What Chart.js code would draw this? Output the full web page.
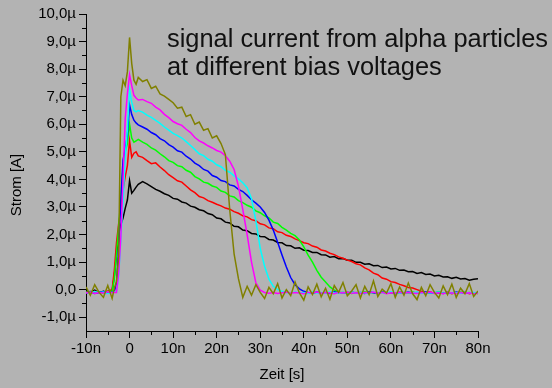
<!DOCTYPE html>
<html>
<head>
<meta charset="utf-8">
<script src="https://cdn.jsdelivr.net/npm/chart.js@4/dist/chart.umd.min.js"></script>
<style>
  html, body { margin: 0; padding: 0; background: #b3b3b3; }
</style>
</head>
<body>
<canvas id="c" width="552" height="388"></canvas>
<script>
// time axis in ns, currents in µA
const timeNs = [
  -10, -9, -8, -7, -6, -5, -4,
  -3.5, -3, -2.5, -2, -1.5, -1, -0.5, 0, 0.5, 1, 1.5, 2,
  3, 4, 5, 6, 7, 8, 9, 10, 11, 12,
  13, 14, 15, 16, 17, 18, 19, 20, 21, 22,
  23, 24, 25, 26, 27, 28, 29, 30, 31, 32,
  33, 34, 35, 36, 37, 38, 39, 40, 41, 42,
  43, 44, 45, 46, 47, 48, 49, 50, 51, 52,
  53, 54, 55, 56, 57, 58, 59, 60, 61, 62,
  63, 64, 65, 66, 67, 68, 69, 70, 71, 72,
  73, 74, 75, 76, 77, 78, 79, 80
]

const black = [
  -0.05, -0.1, -0.02, -0.12, -0.06, -0.1, -0.04,
  0.5, 1.3, 2.0, 2.35, 2.6, 2.95, 3.25, 3.95, 3.5, 3.6, 3.72, 3.82,
  3.92, 3.84, 3.74, 3.64, 3.57, 3.48, 3.42, 3.31, 3.28, 3.18,
  3.14, 3.03, 2.99, 2.9, 2.86, 2.76, 2.72, 2.6, 2.57, 2.45,
  2.42, 2.3, 2.28, 2.16, 2.14, 2.04, 2.02, 1.93, 1.92, 1.82,
  1.8, 1.71, 1.7, 1.6, 1.59, 1.5, 1.52, 1.43, 1.42, 1.35,
  1.35, 1.27, 1.26, 1.18, 1.2, 1.12, 1.13, 1.07, 1.07, 0.99,
  0.99, 0.92, 0.94, 0.87, 0.88, 0.8, 0.82, 0.75, 0.77, 0.7,
  0.71, 0.65, 0.66, 0.59, 0.62, 0.55, 0.57, 0.5, 0.52, 0.46,
  0.47, 0.41, 0.45, 0.39, 0.4, 0.34, 0.38, 0.4
]

const red = [
  -0.08, -0.14, -0.06, -0.12, -0.1, -0.05, 0.0,
  0.7, 1.7, 2.4, 2.9, 3.6, 4.1, 4.5, 5.4, 4.8, 4.95, 5.0, 4.85,
  4.8, 4.68, 4.57, 4.6, 4.45, 4.32, 4.17, 4.06, 3.95, 3.9,
  3.76, 3.62, 3.52, 3.38, 3.33, 3.23, 3.17, 3.1, 3.04, 2.96,
  2.92, 2.83, 2.77, 2.68, 2.64, 2.54, 2.5, 2.39, 2.35, 2.24,
  2.21, 2.1, 2.07, 1.97, 1.93, 1.84, 1.78, 1.7, 1.67, 1.58,
  1.54, 1.44, 1.4, 1.32, 1.27, 1.19, 1.14, 1.07, 1.02, 0.94,
  0.9, 0.79, 0.72, 0.6, 0.54, 0.42, 0.38, 0.29, 0.26, 0.19,
  0.14, 0.08, 0.06, 0.0, -0.06, -0.1, -0.08, -0.14, -0.1, -0.13,
  -0.09, -0.15, -0.1, -0.12, -0.08, -0.15, -0.11, -0.14
]

const green = [
  -0.1, -0.06, -0.13, -0.08, -0.12, -0.07, -0.05,
  0.4, 1.3, 2.3, 3.3, 4.4, 5.0, 5.3, 6.0, 5.5, 5.35, 5.4, 5.45,
  5.35, 5.27, 5.14, 5.06, 4.93, 4.82, 4.68, 4.62, 4.5, 4.46,
  4.33, 4.26, 4.1, 4.02, 3.9, 3.86, 3.76, 3.71, 3.58, 3.53,
  3.4, 3.36, 3.23, 3.16, 3.06, 2.99, 2.86, 2.79, 2.68, 2.6,
  2.45, 2.4, 2.26, 2.16, 2.04, 1.96, 1.8, 1.55, 1.25, 1.0,
  0.7, 0.45, 0.28, 0.1, -0.02, -0.08, -0.12, -0.09, -0.14, -0.1,
  -0.12, -0.08, -0.13, -0.1, -0.15, -0.09, -0.12, -0.1, -0.14, -0.08,
  -0.11, -0.13, -0.09, -0.12, -0.1, -0.15, -0.1, -0.12, -0.08, -0.13,
  -0.1, -0.12, -0.14, -0.09, -0.12, -0.1, -0.13, -0.11
]

const blue = [
  -0.12, -0.08, -0.14, -0.1, -0.07, -0.12, -0.09,
  -0.05, 0.2, 1.5, 3.3, 4.7, 5.1, 5.6, 6.7, 6.35, 6.15, 6.05, 5.98,
  5.9, 5.82, 5.7, 5.62, 5.48, 5.4, 5.26, 5.17, 5.04, 4.99,
  4.84, 4.74, 4.59, 4.5, 4.36, 4.3, 4.14, 4.08, 3.96, 3.92,
  3.8, 3.76, 3.64, 3.56, 3.42, 3.26, 3.14, 3.0, 2.8, 2.52,
  2.16, 1.72, 1.26, 0.82, 0.44, 0.18, 0.03, -0.06, -0.1, -0.13,
  -0.09, -0.12, -0.1, -0.14, -0.08, -0.12, -0.1, -0.13, -0.09, -0.12,
  -0.1, -0.14, -0.08, -0.11, -0.13, -0.09, -0.12, -0.1, -0.15, -0.1,
  -0.12, -0.09, -0.13, -0.1, -0.12, -0.08, -0.13, -0.11, -0.1, -0.14,
  -0.1, -0.12, -0.09, -0.13, -0.1, -0.12, -0.14, -0.11
]

const cyan = [
  -0.1, -0.13, -0.07, -0.11, -0.09, -0.14, -0.1,
  -0.08, -0.1, 0.5, 1.8, 3.2, 4.8, 5.8, 7.25, 6.8, 6.5, 6.45, 6.5,
  6.44, 6.33, 6.25, 6.14, 6.03, 5.9, 5.79, 5.67, 5.59, 5.5,
  5.37, 5.23, 5.08, 4.93, 4.86, 4.73, 4.66, 4.53, 4.46, 4.33,
  4.26, 4.13, 4.02, 3.88, 3.7, 3.3, 2.5, 1.5, 0.85, 0.38,
  0.12, 0.0, -0.06, -0.1, -0.13, -0.09, -0.12, -0.1, -0.14, -0.09,
  -0.12, -0.1, -0.13, -0.08, -0.11, -0.13, -0.1, -0.12, -0.09, -0.13,
  -0.1, -0.12, -0.14, -0.09, -0.12, -0.1, -0.13, -0.08, -0.12, -0.1,
  -0.13, -0.1, -0.12, -0.09, -0.14, -0.1, -0.12, -0.11, -0.09, -0.13,
  -0.1, -0.12, -0.1, -0.14, -0.09, -0.12, -0.1, -0.13
]

const magenta = [
  -0.12, -0.09, -0.14, -0.1, -0.12, -0.08, -0.11,
  -0.1, -0.1, 0.6, 1.9, 4.0, 6.2, 7.1, 7.8, 7.4, 7.05, 6.95, 6.88,
  6.9, 6.82, 6.76, 6.62, 6.52, 6.36, 6.24, 6.1, 6.02, 5.96,
  5.82, 5.7, 5.52, 5.4, 5.32, 5.22, 5.14, 5.05, 4.99, 4.86,
  4.66, 4.36, 3.75, 2.9, 2.0, 1.0, 0.25, -0.02, -0.1, -0.13,
  -0.1, -0.14, -0.11, -0.09, -0.13, -0.1, -0.12, -0.15, -0.1, -0.12,
  -0.09, -0.13, -0.1, -0.12, -0.15, -0.1, -0.12, -0.09, -0.13, -0.11,
  -0.14, -0.1, -0.12, -0.09, -0.13, -0.1, -0.15, -0.11, -0.12, -0.09,
  -0.13, -0.1, -0.12, -0.14, -0.1, -0.12, -0.09, -0.13, -0.11, -0.15,
  -0.1, -0.12, -0.14, -0.1, -0.13, -0.11, -0.15, -0.12
]

const olive = [
  0.1, -0.2, 0.18, -0.1, -0.28, 0.15, -0.32,
  0.05, 0.3, 1.2, 7.0, 7.6, 7.4, 7.9, 9.15, 8.2, 7.6, 7.45, 7.7,
  7.55, 7.62, 7.3, 7.38, 7.1, 7.02, 6.9, 6.78, 6.58, 6.62,
  6.28, 6.35, 6.0, 6.08, 5.78, 5.84, 5.5, 5.58, 5.3, 4.9,
  2.9, 1.3, 0.4, -0.28, 0.12, -0.2, 0.18, -0.1, -0.32, 0.08,
  -0.15, 0.22, -0.3, 0.0, -0.22, 0.28, -0.12, -0.38, 0.1, -0.18,
  0.2, -0.26, 0.05, -0.35, 0.15, -0.1, 0.26, -0.22, -0.05, 0.18,
  -0.3, 0.12, -0.18, 0.32, -0.25, 0.02, -0.12, 0.22, -0.28, 0.1,
  -0.2, 0.24, -0.15, -0.36, 0.08, -0.22, 0.18, -0.1, -0.3, 0.14,
  -0.18, 0.2, -0.28, 0.05, -0.15, 0.22, -0.25, -0.05
]

const xTicks = [-10, 0, 10, 20, 30, 40, 50, 60, 70, 80]
const xMinorTicks = [-5, 5, 15, 25, 35, 45, 55, 65, 75]
const yTicks = [-1, 0, 1, 2, 3, 4, 5, 6, 7, 8, 9, 10]
const yMinorTicks = [-0.5, 0.5, 1.5, 2.5, 3.5, 4.5, 5.5, 6.5, 7.5, 8.5, 9.5]

const titleLines = ["signal current from alpha particles", "at different bias voltages"]
const yTitle = "Strom [A]"

const bg = "#b3b3b3"
const font = "'Liberation Sans', Arial, sans-serif"

// grey page background behind everything
const background = {
  id: "background",
  beforeDraw(chart) {
    const ctx = chart.ctx
    ctx.save()
    ctx.fillStyle = bg
    ctx.fillRect(0, 0, chart.width, chart.height)
    ctx.restore()
  }
}

// short minor ticks halfway between the labelled ones
const minorTicks = {
  id: "minorTicks",
  afterDraw(chart) {
    const { ctx, scales: { x, y } } = chart
    ctx.save()
    ctx.strokeStyle = "#000"
    ctx.lineWidth = 1
    ctx.beginPath()
    xMinorTicks.forEach(v => {
      const px = Math.round(x.getPixelForValue(v)) + 0.5
      ctx.moveTo(px, x.top)
      ctx.lineTo(px, x.top + 4)
    })
    yMinorTicks.forEach(v => {
      const py = Math.round(y.getPixelForValue(v)) + 0.5
      ctx.moveTo(y.right - 4, py)
      ctx.lineTo(y.right, py)
    })
    ctx.stroke()
    ctx.restore()
  }
}

// caption inside the plot, and the y title (sits below the plot centre in the original)
const annotation = {
  id: "annotation",
  afterDraw(chart) {
    const ctx = chart.ctx
    ctx.save()
    ctx.fillStyle = "#111"
    ctx.font = "25.4px " + font
    ctx.textBaseline = "alphabetic"
    ctx.fillText(titleLines[0], 167, 47)
    ctx.fillText(titleLines[1], 167, 75)

    ctx.fillStyle = "#000"
    ctx.font = "15px " + font
    ctx.textAlign = "center"
    ctx.textBaseline = "middle"
    ctx.translate(17, 185)
    ctx.rotate(-Math.PI / 2)
    ctx.fillText(yTitle, 0, 0)
    ctx.restore()
  }
}

const line = (data, color) => ({
  data,
  borderColor: color,
  borderWidth: 1.5,
  pointRadius: 0,
  tension: 0,
  fill: false
})

const tickFont = { family: font, size: 15 }

new Chart(document.getElementById("c"), {
  type: "line",
  data: {
    labels: timeNs,
    datasets: [
      line(olive, "#808000"),
      line(magenta, "#ff00ff"),
      line(cyan, "#00ffff"),
      line(blue, "#0000ff"),
      line(green, "#00ff00"),
      line(red, "#ff0000"),
      line(black, "#000000")
    ]
  },
  options: {
    responsive: false,
    animation: false,
    devicePixelRatio: 1,
    layout: { padding: { top: 14, right: 74, left: 0, bottom: 0 } },
    plugins: { legend: { display: false }, tooltip: { enabled: false } },
    scales: {
      x: {
        type: "linear",
        min: -10, max: 80,
        afterBuildTicks: s => { s.ticks = xTicks.map(v => ({ value: v })) },
        afterFit: s => { s.height = 57 },
        ticks: {
          color: "#000", font: tickFont, padding: 2, maxRotation: 0,
          callback: v => v === 0 ? "0" : v + "n"
        },
        grid: { drawOnChartArea: false, tickLength: 7, color: "#000" },
        border: { color: "#000", width: 1 },
        title: {
          display: true, text: "Zeit [s]", color: "#000",
          font: { family: font, size: 15 }, padding: { top: 0, bottom: 4 }
        }
      },
      y: {
        min: -1.5, max: 10,
        afterBuildTicks: s => { s.ticks = yTicks.map(v => ({ value: v })) },
        afterFit: s => { s.width = 86 },
        ticks: {
          color: "#000", font: tickFont, padding: 3,
          callback: v => v === 0 ? "0,0" : v.toFixed(1).replace(".", ",") + "µ"
        },
        grid: { drawOnChartArea: false, tickLength: 7, color: "#000" },
        border: { color: "#000", width: 1 }
      }
    }
  },
  plugins: [background, minorTicks, annotation]
})
</script>
</body>
</html>
